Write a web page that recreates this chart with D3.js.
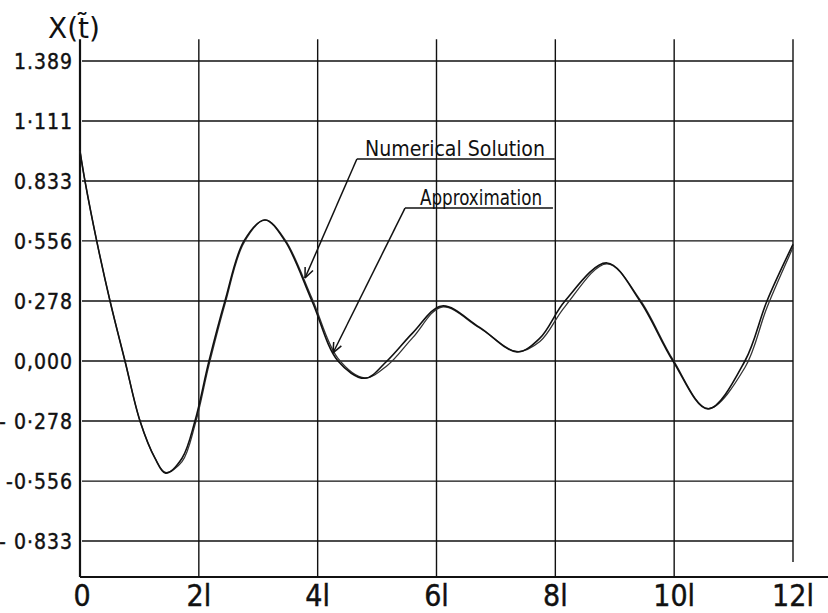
<!DOCTYPE html>
<html>
<head>
<meta charset="utf-8">
<script src="https://cdn.jsdelivr.net/npm/d3@7"></script>
<style>
  html, body { margin: 0; padding: 0; background: #fff; }
  svg { display: block; }
  text { font-family: "DejaVu Sans Condensed", "DejaVu Sans", sans-serif; font-stretch: condensed; fill: #111; }
</style>
</head>
<body>
<svg id="chart" width="828" height="613"></svg>
<script>
// ---- data ----
const tValues = [0, 0.084, 0.281, 0.505, 0.757, 1.010, 1.262, 1.440, 1.717, 1.935, 2.171, 2.440, 2.760, 3.113, 3.450, 3.904, 4.342, 4.796, 5.167, 5.6, 6.092, 6.72, 7.354, 7.74, 8.162, 8.869, 9.424, 9.980, 10.569, 11.191, 11.562, 12];
const numerical = [0.972, 0.833, 0.556, 0.278, 0.000, -0.278, -0.450, -0.519, -0.450, -0.278, 0.000, 0.278, 0.556, 0.653, 0.556, 0.278, 0.000, -0.080, 0.000, 0.130, 0.255, 0.157, 0.042, 0.106, 0.278, 0.454, 0.278, 0.000, -0.222, 0.000, 0.278, 0.540];
const approximation = [0.972, 0.833, 0.556, 0.278, 0.000, -0.278, -0.450, -0.516, -0.466, -0.296, -0.018, 0.264, 0.548, 0.653, 0.562, 0.290, 0.012, -0.078, -0.022, 0.108, 0.250, 0.154, 0.044, 0.090, 0.252, 0.450, 0.284, 0.006, -0.220, -0.030, 0.248, 0.525];

const xTickValues = [0, 2, 4, 6, 8, 10, 12];
const xTickLabels = ["0", "2l", "4l", "6l", "8l", "10l", "12l"];
const yTickValues = [1.389, 1.111, 0.833, 0.556, 0.278, 0.000, -0.278, -0.556, -0.833];
const yTickLabels = ["1.389", "1·111", "0.833", "0·556", "0·278", "0,000", "- 0·278", "-0·556", "- 0·833"];
const yTitle = "X(t\u0303)";

const annotationLabels = ["Numerical  Solution", "Approximation"];
const annotationTip = [[3.787, 0.384], [4.258, 0.037]];
const annotationStart = [[4.66, 0.935], [5.47, 0.708]];
const annotationEnd = [7.99, 7.96];

// ---- layout ----
const svg = d3.select("#chart");
const x = d3.scaleLinear().domain([0, 12]).range([80, 793]);
const y = d3.scaleLinear().domain([-1, 1.5]).range([577, 37]);
const ink = "#111";

// horizontal grid lines
svg.append("g").selectAll("line").data(yTickValues).join("line")
  .attr("x1", x(0) + 2).attr("x2", x(12))
  .attr("y1", d => y(d)).attr("y2", d => y(d))
  .attr("stroke", ink).attr("stroke-width", 1.4);

// vertical grid lines
svg.append("g").selectAll("line").data(xTickValues.slice(1)).join("line")
  .attr("x1", d => x(d)).attr("x2", d => x(d))
  .attr("y1", y(1.49)).attr("y2", d => d === 12 ? y(-0.93) : y(-1))
  .attr("stroke", ink).attr("stroke-width", 1.4);

// axes lines
svg.append("line").attr("x1", x(0)).attr("x2", x(0)).attr("y1", y(1.49)).attr("y2", y(-1))
  .attr("stroke", ink).attr("stroke-width", 2.2);
svg.append("line").attr("x1", x(0)).attr("x2", 828).attr("y1", y(-1)).attr("y2", y(-1))
  .attr("stroke", ink).attr("stroke-width", 2.2);

// y tick labels
svg.append("g").selectAll("text").data(yTickValues).join("text")
  .attr("x", x(0) - 7).attr("y", d => y(d) + 8)
  .attr("text-anchor", "end")
  .attr("font-size", 21).attr("letter-spacing", 1)
  .attr("stroke", ink).attr("stroke-width", 0.4)
  .text((d, i) => yTickLabels[i]);

// x tick labels
svg.append("g").selectAll("text").data(xTickValues).join("text")
  .attr("x", d => x(d) + (d === 0 ? 2 : 0)).attr("y", 606)
  .attr("text-anchor", "middle")
  .attr("font-size", 30)
  .attr("stroke", ink).attr("stroke-width", 0.4)
  .text((d, i) => xTickLabels[i]);

// y title
svg.append("text").attr("x", 48).attr("y", 38).attr("font-size", 28)
  .attr("textLength", 52).attr("lengthAdjust", "spacingAndGlyphs").text(yTitle);

// curves
const line = d3.line().x((d, i) => x(tValues[i])).y(d => y(d)).curve(d3.curveCatmullRom.alpha(0.5));
svg.append("path").datum(approximation).attr("d", line)
  .attr("fill", "none").attr("stroke", "#333").attr("stroke-width", 1.3);
svg.append("path").datum(numerical).attr("d", line)
  .attr("fill", "none").attr("stroke", ink).attr("stroke-width", 1.6);

// annotations
annotationLabels.forEach((lab, i) => {
  const sx = x(annotationStart[i][0]), sy = y(annotationStart[i][1]);
  const ex = x(annotationEnd[i]);
  const tx = x(annotationTip[i][0]), ty = y(annotationTip[i][1]);
  svg.append("line").attr("x1", sx).attr("x2", ex).attr("y1", sy).attr("y2", sy)
    .attr("stroke", ink).attr("stroke-width", 1.4);
  svg.append("line").attr("x1", sx).attr("y1", sy).attr("x2", tx).attr("y2", ty)
    .attr("stroke", ink).attr("stroke-width", 1.5);
  const ang = Math.atan2(sy - ty, sx - tx);
  [-0.4, 0.4].forEach(da => {
    svg.append("line").attr("x1", tx).attr("y1", ty)
      .attr("x2", tx + 11 * Math.cos(ang + da)).attr("y2", ty + 11 * Math.sin(ang + da))
      .attr("stroke", ink).attr("stroke-width", 1.5);
  });
  svg.append("text")
    .attr("x", i === 0 ? 365 : 420).attr("y", sy - 3)
    .attr("font-size", 21)
    .attr("textLength", i === 0 ? 180 : 122).attr("lengthAdjust", "spacingAndGlyphs")
    .text(lab);
});
</script>
</body>
</html>
